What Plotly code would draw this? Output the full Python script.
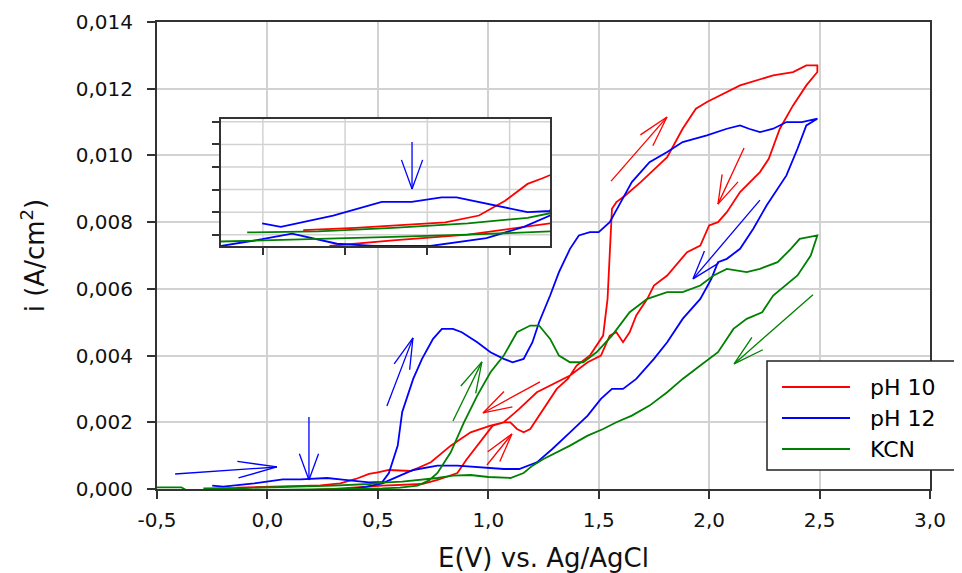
import math
import plotly.graph_objects as go

# ---------------- data ----------------
series_names = ["pH 10", "pH 12", "KCN"]
series_colors = ["#FF0000", "#0000FF", "#008000"]

# pH 10 : forward (anodic) scan then reverse scan
ph10_fwd_E = [-0.07, 0.10, 0.30, 0.52, 0.60, 0.70, 0.77, 0.86, 0.90, 0.96, 1.02, 1.07, 1.10, 1.13, 1.16,
              1.19, 1.22, 1.27, 1.31, 1.36, 1.40, 1.46, 1.52, 1.54, 1.55, 1.56, 1.58, 1.62, 1.69, 1.81,
              1.88, 1.94, 1.99, 2.14, 2.29, 2.38, 2.44, 2.49]
ph10_fwd_i = [-0.0001, -0.00005, 0.0, 0.0001, 0.00012, 0.00015, 0.00027, 0.00048, 0.00087, 0.0014, 0.0019,
              0.0020, 0.0020, 0.0018, 0.0017, 0.0018, 0.0021, 0.0026, 0.0030, 0.0033, 0.0037, 0.0040, 0.0046,
              0.0057, 0.0072, 0.0084, 0.0086, 0.0088, 0.0092, 0.00995, 0.0108, 0.0114, 0.0116, 0.0121,
              0.0124, 0.0125, 0.0127, 0.0127]
ph10_rev_E = [2.49, 2.44, 2.38, 2.32, 2.27, 2.23, 2.14, 2.08, 2.04, 2.00, 1.96, 1.90, 1.81, 1.75, 1.72,
              1.67, 1.64, 1.61, 1.58, 1.55, 1.51, 1.45, 1.37, 1.31, 1.22, 1.14, 1.07, 1.01, 0.92, 0.83,
              0.74, 0.65, 0.55, 0.50, 0.46, 0.40, 0.33, 0.24, 0.10, 0.00, -0.14]
ph10_rev_i = [0.0125, 0.0121, 0.0115, 0.0108, 0.0099, 0.0095, 0.0089, 0.0083, 0.0080, 0.0079, 0.0073,
              0.0071, 0.0064, 0.0061, 0.0057, 0.0052, 0.0047, 0.0044, 0.0047, 0.0046, 0.0040, 0.0038,
              0.0034, 0.0032, 0.0029, 0.0024, 0.0020, 0.0019, 0.0017, 0.0013, 0.0008, 0.00054, 0.00057,
              0.0005, 0.00045, 0.0003, 0.00017, 0.00011, 0.00008, 0.00006, 0.00004]

# pH 12
ph12_fwd_E = [-0.25, -0.20, -0.06, 0.03, 0.07, 0.15, 0.23, 0.27, 0.34, 0.40, 0.46, 0.52, 0.55, 0.59, 0.61,
              0.66, 0.70, 0.75, 0.79, 0.84, 0.88, 0.95, 1.01, 1.07, 1.11, 1.16, 1.20, 1.23, 1.28, 1.32,
              1.37, 1.41, 1.46, 1.50, 1.55, 1.60, 1.65, 1.73, 1.81, 1.88, 1.99, 2.08, 2.14, 2.18, 2.23,
              2.29, 2.35, 2.42, 2.49]
ph12_fwd_i = [0.0001, 0.00007, 0.00017, 0.00025, 0.00029, 0.00029, 0.00033, 0.00033, 0.00028, 0.00024,
              0.0002, 0.00021, 0.00048, 0.0013, 0.0023, 0.0033, 0.0039, 0.0045, 0.0048, 0.0048, 0.0047,
              0.0044, 0.0041, 0.0039, 0.0038, 0.0039, 0.0044, 0.0050, 0.0058, 0.0065, 0.0072, 0.0076,
              0.0077, 0.0077, 0.0080, 0.0086, 0.0092, 0.0098, 0.0101, 0.0104, 0.0106, 0.0108, 0.0109,
              0.0108, 0.0107, 0.0108, 0.0110, 0.0110, 0.0111]
ph12_rev_E = [2.49, 2.44, 2.40, 2.35, 2.32, 2.26, 2.20, 2.14, 2.08, 2.04, 2.01, 1.96, 1.88, 1.81, 1.75,
              1.67, 1.61, 1.56, 1.51, 1.45, 1.37, 1.29, 1.22, 1.14, 1.07, 0.92, 0.86, 0.77, 0.66, 0.60,
              0.55, 0.52, 0.45, 0.35, 0.20, 0.05, -0.05, -0.17, -0.25, -0.36]
ph12_rev_i = [0.0111, 0.0109, 0.0102, 0.0094, 0.0091, 0.0085, 0.0078, 0.0072, 0.0069, 0.0068, 0.0063,
              0.0057, 0.0051, 0.0044, 0.0039, 0.0033, 0.0030, 0.0030, 0.0027, 0.0022, 0.0017, 0.0012,
              0.0008, 0.0006, 0.0006, 0.00066, 0.0007, 0.0007, 0.00057, 0.0004, 0.00025, 0.00017,
              0.00007, -0.00003, -0.0001, -0.0001, -0.00008, 0.00001, -0.00004, -0.0001]

# KCN
kcn_fwd_E = [-0.50, -0.39, -0.36, -0.10, 0.10, 0.30, 0.52, 0.60, 0.68, 0.73, 0.77, 0.83, 0.89, 0.95, 1.01,
             1.07, 1.13, 1.19, 1.23, 1.28, 1.32, 1.37, 1.43, 1.49, 1.56, 1.64, 1.72, 1.81, 1.88, 1.96,
             2.02, 2.08, 2.17, 2.23, 2.31, 2.37, 2.41, 2.49]
kcn_fwd_i = [0.00005, 0.00005, -0.00006, -0.00004, -0.00002, 0.0, 0.00002, 0.00004, 0.0001, 0.00025,
             0.00048, 0.0011, 0.0020, 0.0028, 0.0035, 0.0040, 0.0047, 0.0049, 0.0049, 0.0045, 0.0040,
             0.0038, 0.0038, 0.0041, 0.0046, 0.0053, 0.0057, 0.0059, 0.0059, 0.0061, 0.0064, 0.0066,
             0.0065, 0.0066, 0.0068, 0.0072, 0.0075, 0.0076]
kcn_rev_E = [2.49, 2.46, 2.40, 2.33, 2.29, 2.24, 2.17, 2.11, 2.04, 1.96, 1.88, 1.81, 1.73, 1.65, 1.58,
             1.52, 1.45, 1.37, 1.31, 1.25, 1.20, 1.16, 1.10, 1.00, 0.92, 0.84, 0.77, 0.61, 0.52, 0.46,
             0.30, 0.10, -0.10, -0.29]
kcn_rev_i = [0.0076, 0.0070, 0.0064, 0.0060, 0.0058, 0.0053, 0.0051, 0.0048, 0.0041, 0.0037, 0.0033,
             0.0029, 0.0025, 0.0022, 0.0020, 0.0018, 0.0016, 0.0013, 0.0011, 0.0009, 0.0007, 0.00048,
             0.00033, 0.00036, 0.00042, 0.0004, 0.00033, 0.00022, 0.00019, 0.00015, 0.0001, 0.00006,
             0.00003, 0.00002]

curves_E = [ph10_fwd_E + ph10_rev_E, ph12_fwd_E + ph12_rev_E, kcn_fwd_E + kcn_rev_E]
curves_i = [ph10_fwd_i + ph10_rev_i, ph12_fwd_i + ph12_rev_i, kcn_fwd_i + kcn_rev_i]

x_tick_vals = [-0.5, 0.0, 0.5, 1.0, 1.5, 2.0, 2.5, 3.0]
x_tick_text = ["-0,5", "0,0", "0,5", "1,0", "1,5", "2,0", "2,5", "3,0"]

# ---------------- geometry / style ----------------
W, H = 962, 573
OFF = 8                                   # default page (body) margin of the html file
PL, PR, PT, PB = 157, 930, 22, 489        # plot area in page pixels
ML, MT = PL - OFF, PT - OFF
MR, MB = W - (PR - OFF), H - (PB - OFF)
PW, PH = PR - PL, PB - PT
XR = [-0.5, 3.0]
YR = [0.0, 0.014]
SX = PW / (XR[1] - XR[0])
SY = PH / (YR[1] - YR[0])

# inset (zoom on the low-current region), page pixels
IX0, IX1, IY0, IY1 = 221, 550, 119, 246
X2R = [-0.36, 0.52]
Y2R = [-0.0001, 0.001025]
SX2 = (IX1 - IX0) / (X2R[1] - X2R[0])
SY2 = (IY1 - IY0) / (Y2R[1] - Y2R[0])

FONT = "DejaVu Sans"
AXC = "#333333"
GRID = "#D2D2D2"


def px2paper_x(p):
    return (p - PL) / PW


def px2paper_y(p):
    return (PB - p) / PH


fig = go.Figure()
for k in range(3):
    fig.add_trace(go.Scatter(x=curves_E[k], y=curves_i[k], mode="lines", name=series_names[k],
                             line=dict(color=series_colors[k], width=1.8), xaxis="x", yaxis="y",
                             showlegend=False))
for k in range(3):
    fig.add_trace(go.Scatter(x=curves_E[k], y=curves_i[k], mode="lines", name=series_names[k],
                             line=dict(color=series_colors[k], width=1.8), xaxis="x2", yaxis="y2",
                             showlegend=False))

shapes = []


def arrow(x0, y0, x1, y1, color, hl, ang, xref="x", yref="y", sx=SX, sy=SY, width=1.3):
    dx, dy = (x1 - x0) * sx, (y1 - y0) * sy
    L = math.hypot(dx, dy)
    ux, uy = -dx / L, -dy / L
    shapes.append(dict(type="line", xref=xref, yref=yref, x0=x0, y0=y0, x1=x1, y1=y1,
                       line=dict(color=color, width=width), layer="above"))
    for s in (1, -1):
        a = math.radians(ang) * s
        bx = ux * math.cos(a) - uy * math.sin(a)
        by = ux * math.sin(a) + uy * math.cos(a)
        shapes.append(dict(type="line", xref=xref, yref=yref, x0=x1, y0=y1,
                           x1=x1 + bx * hl / sx, y1=y1 + by * hl / sy,
                           line=dict(color=color, width=width), layer="above"))


R, B, G = series_colors
arrow(-0.418, 0.00045, 0.043, 0.00066, B, 40, 12)
arrow(0.188, 0.00216, 0.188, 0.00027, B, 28, 20)
arrow(0.541, 0.00249, 0.659, 0.00453, B, 32, 15)
arrow(2.230, 0.00866, 1.927, 0.00630, B, 30, 18)
arrow(1.556, 0.00923, 1.809, 0.01115, R, 32, 15)
arrow(2.158, 0.01022, 2.040, 0.00854, R, 30, 17)
arrow(1.234, 0.00321, 0.976, 0.00228, R, 30, 17)
arrow(0.994, 0.00072, 1.107, 0.00165, R, 30, 15)
arrow(0.840, 0.00204, 0.971, 0.00381, G, 32, 15)
arrow(2.470, 0.00582, 2.113, 0.00375, G, 32, 15)

# inset background + grid (drawn in the inset subplot layer, above the main grid)
shapes.append(dict(type="rect", xref="x2", yref="y2", x0=X2R[0], x1=X2R[1], y0=Y2R[0], y1=Y2R[1],
                   fillcolor="white", line=dict(width=0), layer="below"))
inset_xt = [-0.248 + 0.22 * k for k in range(4)]
inset_yt = [0.0002 * k for k in range(6)]
for xv in inset_xt:
    shapes.append(dict(type="line", xref="x2", yref="y2", x0=xv, x1=xv, y0=Y2R[0], y1=Y2R[1],
                       line=dict(color=GRID, width=1.5), layer="below"))
for yv in inset_yt:
    shapes.append(dict(type="line", xref="x2", yref="y2", x0=X2R[0], x1=X2R[1], y0=yv, y1=yv,
                       line=dict(color=GRID, width=1.5), layer="below"))
arrow(0.151, 0.000821, 0.151, 0.000405, B, 31, 20, xref="x2", yref="y2", sx=SX2, sy=SY2)

# manual legend box
shapes.append(dict(type="rect", xref="paper", yref="paper", x0=px2paper_x(767), x1=px2paper_x(985),
                   y0=px2paper_y(470), y1=px2paper_y(361), fillcolor="white",
                   line=dict(color="#222222", width=1.5), layer="above"))
annotations = []
for k, yp in enumerate([387, 418, 449]):
    shapes.append(dict(type="line", xref="paper", yref="paper", x0=px2paper_x(782), x1=px2paper_x(850),
                       y0=px2paper_y(yp), y1=px2paper_y(yp),
                       line=dict(color=series_colors[k], width=2), layer="above"))
    annotations.append(dict(xref="paper", yref="paper", x=px2paper_x(868), y=px2paper_y(yp),
                            xanchor="left", yanchor="middle", showarrow=False, text=series_names[k],
                            font=dict(family=FONT, size=22, color="black")))

fig.update_layout(
    width=W, height=H,
    margin=dict(l=ML, r=MR, t=MT, b=MB, autoexpand=False),
    plot_bgcolor="white", paper_bgcolor="white",
    separators=",.",
    showlegend=False,
    font=dict(family=FONT, color="black"),
    shapes=shapes, annotations=annotations,
    xaxis=dict(range=XR, tickvals=x_tick_vals, ticktext=x_tick_text, showgrid=True, gridcolor=GRID,
               gridwidth=1.5, zeroline=False, showline=True, linecolor=AXC, linewidth=2, mirror=True,
               ticks="outside", ticklen=8, tickwidth=1.5, tickcolor=AXC, ticklabelstandoff=4,
               tickfont=dict(family=FONT, size=20, color="#111"),
               title=dict(text="E(V) vs. Ag/AgCl", font=dict(family=FONT, size=26, color="#111"),
                          standoff=18)),
    yaxis=dict(range=YR, dtick=0.002, tick0=0, tickformat=".3f", showgrid=True, gridcolor=GRID,
               gridwidth=1.5, zeroline=False, showline=True, linecolor=AXC, linewidth=2, mirror=True,
               ticks="outside", ticklen=8, tickwidth=1.5, tickcolor=AXC, ticklabelstandoff=10,
               tickfont=dict(family=FONT, size=20, color="#111"),
               title=dict(text="i (A/cm<sup>2</sup>)", font=dict(family=FONT, size=26, color="#111"),
                          standoff=24)),
    xaxis2=dict(domain=[px2paper_x(IX0), px2paper_x(IX1)], anchor="y2", range=X2R, tick0=-0.248,
                dtick=0.22, showticklabels=False, showgrid=False, zeroline=False, showline=True,
                linecolor=AXC, linewidth=2, mirror=True, ticks="outside", ticklen=7, tickwidth=1.5,
                tickcolor=AXC),
    yaxis2=dict(domain=[px2paper_y(IY1), px2paper_y(IY0)], anchor="x2", range=Y2R, tick0=0,
                dtick=0.0002, showticklabels=False, showgrid=False, zeroline=False, showline=True,
                linecolor=AXC, linewidth=2, mirror=True, ticks="outside", ticklen=7, tickwidth=1.5,
                tickcolor=AXC),
)

fig.write_html("out.html")
